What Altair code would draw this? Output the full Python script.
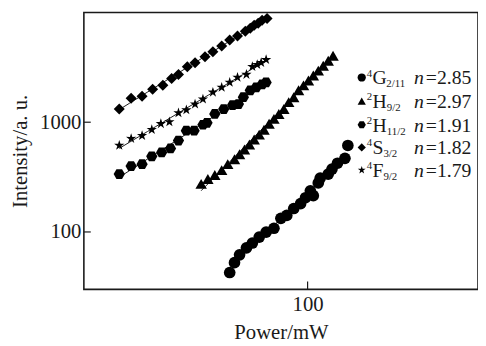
import altair as alt
import pandas as pd

# ---- data (Power in mW, Intensity in a.u.) ----
series_names = ["4G2/11", "2H9/2", "2H11/2", "4S3/2", "4F9/2"]

g_x = [57.1, 59.1, 61.3, 64.4, 67.2, 70.6, 74.2, 78.5, 82.5, 86.1, 90.5, 95.1,
       98.5, 102.0, 104.2, 108, 109.5, 116, 119.2, 124, 130.8, 133.6]
g_y = [42.7, 52.5, 61.9, 71.6, 79.3, 89.8, 99.6, 108, 133, 141.5, 163.5, 181,
       205, 237, 214, 280, 310, 337, 374, 423, 469, 614]

h9_x = [46.5, 48.8, 51.3, 53.9, 56.3, 59.1, 61.3, 63.5, 65.8, 68.1, 70.6, 73.1, 75.8,
        78.5, 81.3, 84.3, 87.3, 90.5, 93.7, 97.1, 100.6, 104.2, 108, 111.9, 116, 120.1]
h9_y = [274, 304, 330, 366, 415, 460, 510, 565, 627, 695, 771, 855, 968,
        1073, 1190, 1319, 1524, 1690, 1953, 2167, 2402, 2664, 2954, 3275, 3632, 4027]

h11_x = [25.8, 28.1, 30.4, 32.6, 35.0, 37.3, 39.5, 41.8, 44.2, 47.1, 48.5, 51.3,
         54.7, 58.3, 60.8, 63.0, 66.2, 69.1, 72.1, 74.2]
h11_y = [337, 398, 415, 489, 531, 577, 681, 837, 837, 948, 988, 1190,
         1319, 1433, 1463, 1690, 1953, 2078, 2212, 2305]

s_x = [25.8, 28.1, 30.4, 32.8, 35.3, 37.6, 39.5, 42.1, 44.5, 47.8, 50.6, 53.9,
       57.1, 60.4, 63.9, 66.2, 68.1, 70.1, 72.1, 74.7]
s_y = [1319, 1656, 1726, 1995, 2167, 2504, 2720, 3208, 3484, 3946, 4375, 4953,
       5607, 6090, 6754, 7185, 7646, 7970, 8476, 8830]

f_x = [25.8, 28.1, 30.4, 32.6, 34.8, 37.0, 39.5, 41.8, 44.5, 47.1, 50.6, 53.9,
       57.1, 60.4, 64.4, 67.2, 69.6, 71.6, 74.2]
f_y = [614, 710, 755, 855, 968, 1008, 1215, 1292, 1463, 1622, 1874, 2078,
       2305, 2556, 2720, 3208, 3343, 3484, 3708]

x_ticks = [100]
y_ticks = [100, 1000]

leg_sup = ["4", "2", "2", "4", "4"]
leg_main = ["G", "H", "H", "S", "F"]
leg_sub = ["2/11", "9/2", "11/2", "3/2", "9/2"]
leg_n = ["=2.85", "=2.97", "=1.91", "=1.82", "=1.79"]

# ---- build table ----
rows = []
for name, xs, ys in zip(series_names, [g_x, h9_x, h11_x, s_x, f_x],
                        [g_y, h9_y, h11_y, s_y, f_y]):
    for xv, yv in zip(xs, ys):
        rows.append({"series": name, "power": xv, "intensity": yv})
df = pd.DataFrame(rows)

FONT = "Liberation Serif"
INK = "#1a1a1a"
W, H = 400, 281

HEX = "M-1,0L-0.5,-0.866L0.5,-0.866L1,0L0.5,0.866L-0.5,0.866Z"
STAR = ("M0,-1L0.2233,-0.3074L0.9511,-0.309L0.3614,0.1174L0.5878,0.809L0,0.38"
        "L-0.5878,0.809L-0.3614,0.1174L-0.9511,-0.309L-0.2233,-0.3074Z")
shapes = ["circle", "triangle-up", HEX, "diamond", STAR]
sizes = [140, 120, 150, 165, 225]

xscale = alt.Scale(type="log", domain=[20, 340.7], nice=False)
yscale = alt.Scale(type="log", domain=[30, 10000], nice=False)

xaxis = alt.Axis(values=x_ticks, format="d", ticks=False, domain=False, grid=False,
                 labelFont=FONT, labelFontSize=21, labelColor=INK, labelPadding=4,
                 title="Power/mW", titleFont=FONT, titleFontSize=21,
                 titleFontWeight="normal", titleColor=INK,
                 titleX=W / 2, titleY=50, titleBaseline="alphabetic", titleAlign="center")
yaxis = alt.Axis(values=y_ticks, format="d", ticks=False, domain=False, grid=False,
                 labelFont=FONT, labelFontSize=21, labelColor=INK, labelPadding=3,
                 title="Intensity/a. u.", titleFont=FONT, titleFontSize=21,
                 titleFontWeight="normal", titleColor=INK, titleAngle=-90,
                 titleX=-58, titleY=H / 2, titleBaseline="alphabetic", titleAlign="center")

fits = alt.Chart(df).transform_regression(
    "power", "intensity", groupby=["series"], method="pow"
).mark_line(color=INK, strokeWidth=1).encode(
    x=alt.X("power:Q", scale=xscale, axis=xaxis),
    y=alt.Y("intensity:Q", scale=yscale, axis=yaxis),
    detail="series:N",
)

points = alt.Chart(df).mark_point(filled=True, opacity=1, color="black").encode(
    x=alt.X("power:Q", scale=xscale, axis=xaxis),
    y=alt.Y("intensity:Q", scale=yscale, axis=yaxis),
    shape=alt.Shape("series:N", scale=alt.Scale(domain=series_names, range=shapes), legend=None),
    size=alt.Size("series:N", scale=alt.Scale(domain=series_names, range=sizes), legend=None),
)

ytick = alt.Chart(pd.DataFrame({"v": y_ticks})).mark_rule(color=INK, strokeWidth=1.2).encode(
    y=alt.Y("v:Q", scale=yscale, axis=yaxis), x=alt.value(0), x2=alt.value(7)
)
xtick = alt.Chart(pd.DataFrame({"v": x_ticks})).mark_rule(color=INK, strokeWidth=1.2).encode(
    x=alt.X("v:Q", scale=xscale, axis=xaxis), y=alt.value(H), y2=alt.value(H - 8)
)

layers = [fits, points, ytick, xtick]

# ---- legend drawn as text pieces ----
row_y = [66, 90, 114, 137, 160]
main_w = {"G": 14, "H": 14.5, "S": 11, "F": 11}


def txt(val, x, y, size, style="normal"):
    return alt.Chart(pd.DataFrame({"t": [val]})).mark_text(
        align="left", baseline="alphabetic", font=FONT, fontSize=size,
        fontStyle=style, color=INK
    ).encode(text="t:N", x=alt.value(x), y=alt.value(y))


for i in range(5):
    yc = row_y[i]
    layers.append(
        alt.Chart(pd.DataFrame({"s": [series_names[i]]})).mark_point(
            filled=True, opacity=1, color="black", size=70, shape=shapes[i]
        ).encode(x=alt.value(282), y=alt.value(yc))
    )
    layers.append(txt(leg_sup[i], 287, yc - 1, 11))
    layers.append(txt(leg_main[i], 293, yc + 7, 20))
    xs = 293 + main_w[leg_main[i]]
    layers.append(txt(leg_sub[i], xs, yc + 10, 11))
    layers.append(txt("n", 335, yc + 7, 20, "italic"))
    layers.append(txt(leg_n[i], 347, yc + 7, 20))

chart = alt.layer(*layers).properties(
    width=W, height=H,
    padding={"left": 77, "top": 2, "right": 0, "bottom": 57},
    autosize=alt.AutoSizeParams(type="none"),
    background="white",
).configure_view(stroke=INK, strokeWidth=1.6)

chart.save("out.html", embed_options={"renderer": "svg", "actions": False})
